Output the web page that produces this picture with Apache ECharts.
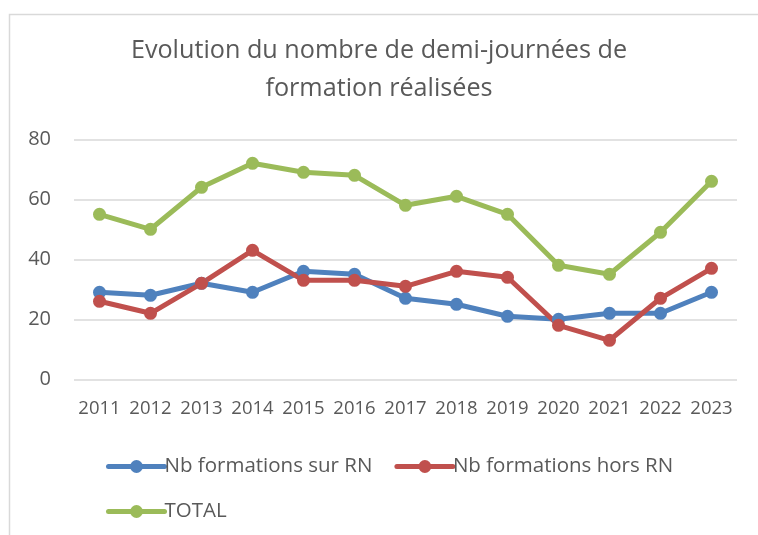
<!DOCTYPE html>
<html>
<head>
<meta charset="utf-8">
<script src="https://cdn.jsdelivr.net/npm/echarts@6/dist/echarts.min.js"></script>
<style>
  html, body { margin: 0; padding: 0; background: #ffffff; }
  #chart { width: 758px; height: 535px; }
</style>
</head>
<body>
<div id="chart"></div>
<script>
// Half-day training sessions per year
const years = ['2011','2012','2013','2014','2015','2016','2017','2018','2019','2020','2021','2022','2023'];
const surRN   = [29, 28, 32, 29, 36, 35, 27, 25, 21, 20, 22, 22, 29];
const horsRN  = [26, 22, 32, 43, 33, 33, 31, 36, 34, 18, 13, 27, 37];
const total   = [55, 50, 64, 72, 69, 68, 58, 61, 55, 38, 35, 49, 66];
const yTicks  = [0, 20, 40, 60, 80];

const seriesNames = ['Nb formations sur RN', 'Nb formations hors RN', 'TOTAL'];
const colors = ['#4f81bd', '#c0504d', '#9bbb59'];
const FONT = '"Open Sans", "Noto Sans", sans-serif';
const TEXT = '#595959';

function lineSeries(name, data, color) {
  return {
    name: name,
    type: 'line',
    data: data,
    symbol: 'circle',
    symbolSize: 13,
    lineStyle: { width: 5, color: color, cap: 'round', join: 'round' },
    itemStyle: { color: color },
    emphasis: { disabled: true },
    animation: false
  };
}

const legendBase = {
  left: 101,
  orient: 'horizontal',
  itemWidth: 56,
  itemHeight: 16,
  itemGap: 22,
  lineStyle: { width: 5, cap: 'round' },
  textStyle: { fontFamily: FONT, fontSize: 20.5, color: TEXT, padding: [0, 0, 0, -5] }
};

const chart = echarts.init(document.getElementById('chart'), null, { renderer: 'canvas' });
chart.setOption({
  backgroundColor: '#ffffff',
  graphic: [{
    type: 'rect',
    shape: { x: 9.5, y: 14.5, width: 800, height: 600 },
    style: { fill: 'none', stroke: '#d9d9d9', lineWidth: 1.5 },
    silent: true
  }],
  title: {
    text: 'Evolution du nombre de demi-journées de\nformation réalisées',
    left: 'center',
    top: 27,
    textStyle: { fontFamily: FONT, fontSize: 25.2, fontWeight: 'normal', color: TEXT, lineHeight: 38 }
  },
  legend: [
    Object.assign({}, legendBase, { top: 451, data: [seriesNames[0], seriesNames[1]] }),
    Object.assign({}, legendBase, { top: 496, data: [seriesNames[2]] })
  ],
  grid: { left: 74, right: 21, top: 139.3, bottom: 535 - 379.3 },
  xAxis: {
    type: 'category',
    data: years,
    boundaryGap: true,
    axisLine: { show: false },
    axisTick: { show: false },
    axisLabel: { fontFamily: FONT, fontSize: 18.5, color: TEXT, margin: 20, interval: 0 }
  },
  yAxis: {
    type: 'value',
    min: yTicks[0],
    max: yTicks[yTicks.length - 1],
    interval: 20,
    axisLine: { show: false },
    axisTick: { show: false },
    splitLine: { lineStyle: { color: '#d9d9d9', width: 1.5 } },
    axisLabel: { fontFamily: FONT, fontSize: 20, color: TEXT, margin: 23 }
  },
  series: [
    lineSeries(seriesNames[0], surRN, colors[0]),
    lineSeries(seriesNames[1], horsRN, colors[1]),
    lineSeries(seriesNames[2], total, colors[2])
  ]
});
</script>
</body>
</html>
